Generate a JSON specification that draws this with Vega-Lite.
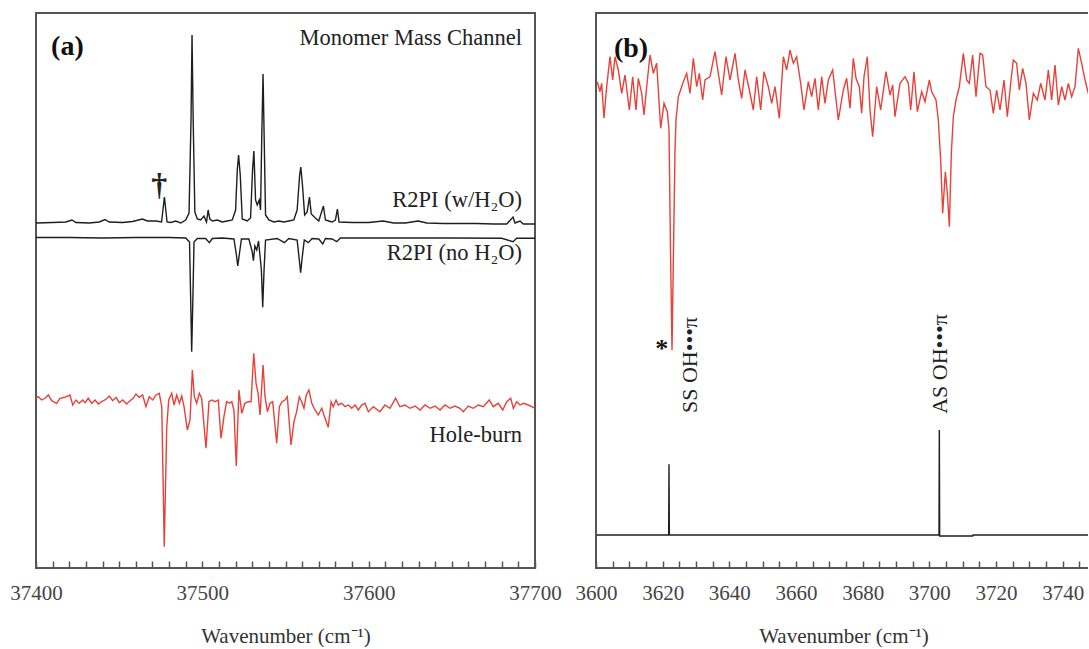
{
  "$schema": "https://vega.github.io/schema/vega-lite/v6.json",
  "padding": {"left": 8, "top": 12, "right": -4, "bottom": 0},
  "background": "white",
  "config": {
    "font": "Liberation Serif",
    "view": {"stroke": "#555", "strokeWidth": 2},
    "axis": {"grid": false, "labelFont": "Liberation Serif", "labelFontSize": 21, "labelColor": "#444", "titleFont": "Liberation Serif", "titleFontSize": 21, "titleFontWeight": "normal", "titleColor": "#333", "tickColor": "#555", "tickWidth": 1.5, "domainColor": "#555", "domainWidth": 2, "labelFlush": false, "labelOverlap": false}
  },
  "datasets": {
    "left": [
      {"s":"w","x":37400,"y":345},{"s":"w","x":37410,"y":345.5},{"s":"w","x":37418,"y":346},{"s":"w","x":37421.6,"y":348},{"s":"w","x":37424,"y":345.5},{"s":"w","x":37432,"y":345},{"s":"w","x":37438,"y":346},{"s":"w","x":37441.5,"y":348.5},{"s":"w","x":37444,"y":346},{"s":"w","x":37452,"y":345.5},{"s":"w","x":37458,"y":346.5},{"s":"w","x":37464,"y":349},{"s":"w","x":37467,"y":347},{"s":"w","x":37472,"y":347},{"s":"w","x":37475.5,"y":346},{"s":"w","x":37477.2,"y":371},{"s":"w","x":37478.8,"y":346},{"s":"w","x":37481,"y":345.5},{"s":"w","x":37484,"y":347},{"s":"w","x":37487,"y":345},{"s":"w","x":37490,"y":348},{"s":"w","x":37492,"y":355},{"s":"w","x":37493.2,"y":448},{"s":"w","x":37493.8,"y":533},{"s":"w","x":37494.5,"y":448},{"s":"w","x":37495.5,"y":356},{"s":"w","x":37497,"y":349},{"s":"w","x":37499,"y":348},{"s":"w","x":37501,"y":352},{"s":"w","x":37502.5,"y":346},{"s":"w","x":37503.5,"y":358},{"s":"w","x":37504.5,"y":349},{"s":"w","x":37506,"y":347},{"s":"w","x":37509,"y":348},{"s":"w","x":37512,"y":346},{"s":"w","x":37515,"y":347},{"s":"w","x":37518,"y":348},{"s":"w","x":37520,"y":358},{"s":"w","x":37521,"y":398},{"s":"w","x":37521.8,"y":413},{"s":"w","x":37522.8,"y":393},{"s":"w","x":37524,"y":349},{"s":"w","x":37527,"y":347},{"s":"w","x":37529,"y":350},{"s":"w","x":37530.2,"y":398},{"s":"w","x":37531,"y":417},{"s":"w","x":37532,"y":368},{"s":"w","x":37533,"y":363},{"s":"w","x":37534.2,"y":368},{"s":"w","x":37535,"y":358},{"s":"w","x":37535.8,"y":438},{"s":"w","x":37536.5,"y":494},{"s":"w","x":37537.2,"y":428},{"s":"w","x":37538,"y":353},{"s":"w","x":37540,"y":348},{"s":"w","x":37543,"y":346},{"s":"w","x":37546,"y":347},{"s":"w","x":37549,"y":346},{"s":"w","x":37552,"y":347},{"s":"w","x":37555,"y":348},{"s":"w","x":37557,"y":358},{"s":"w","x":37558.5,"y":393},{"s":"w","x":37559.2,"y":401},{"s":"w","x":37560.2,"y":383},{"s":"w","x":37561.5,"y":353},{"s":"w","x":37563,"y":356},{"s":"w","x":37564.4,"y":371},{"s":"w","x":37565.5,"y":354},{"s":"w","x":37568,"y":350},{"s":"w","x":37570,"y":347},{"s":"w","x":37572.8,"y":362},{"s":"w","x":37574,"y":348},{"s":"w","x":37576,"y":347},{"s":"w","x":37578,"y":346},{"s":"w","x":37580,"y":348},{"s":"w","x":37581.2,"y":359},{"s":"w","x":37582.2,"y":346},{"s":"w","x":37590,"y":345.5},{"s":"w","x":37600,"y":345.5},{"s":"w","x":37608.7,"y":347},{"s":"w","x":37615,"y":345},{"s":"w","x":37622,"y":345},{"s":"w","x":37629.7,"y":347},{"s":"w","x":37635,"y":345},{"s":"w","x":37645,"y":344.5},{"s":"w","x":37655,"y":344.5},{"s":"w","x":37665,"y":344.5},{"s":"w","x":37675,"y":344},{"s":"w","x":37683,"y":344},{"s":"w","x":37686.8,"y":351},{"s":"w","x":37688,"y":345},{"s":"w","x":37691,"y":347},{"s":"w","x":37693,"y":344},{"s":"w","x":37700,"y":344},
      {"s":"no","x":37400,"y":330.5},{"s":"no","x":37420,"y":330.5},{"s":"no","x":37440,"y":330},{"s":"no","x":37460,"y":330.5},{"s":"no","x":37480,"y":330.5},{"s":"no","x":37490,"y":330},{"s":"no","x":37492.3,"y":326},{"s":"no","x":37493,"y":268},{"s":"no","x":37493.6,"y":216.3},{"s":"no","x":37494.3,"y":268},{"s":"no","x":37495,"y":326},{"s":"no","x":37497,"y":329.5},{"s":"no","x":37502,"y":329.5},{"s":"no","x":37504.2,"y":325.3},{"s":"no","x":37506,"y":329.5},{"s":"no","x":37512,"y":330},{"s":"no","x":37519,"y":329},{"s":"no","x":37520.5,"y":313},{"s":"no","x":37521.3,"y":302},{"s":"no","x":37522.2,"y":313},{"s":"no","x":37523.5,"y":329},{"s":"no","x":37528,"y":329},{"s":"no","x":37530,"y":316},{"s":"no","x":37530.7,"y":307.3},{"s":"no","x":37531.6,"y":322},{"s":"no","x":37532.7,"y":318},{"s":"no","x":37533.8,"y":327},{"s":"no","x":37535.5,"y":298},{"s":"no","x":37536.3,"y":260.7},{"s":"no","x":37537.1,"y":298},{"s":"no","x":37538,"y":328},{"s":"no","x":37545,"y":329.5},{"s":"no","x":37549.3,"y":325.3},{"s":"no","x":37552,"y":329.5},{"s":"no","x":37557,"y":328},{"s":"no","x":37558.3,"y":308},{"s":"no","x":37559.1,"y":295.3},{"s":"no","x":37560,"y":310},{"s":"no","x":37561.3,"y":328},{"s":"no","x":37563.7,"y":325.3},{"s":"no","x":37566,"y":329.5},{"s":"no","x":37570,"y":329},{"s":"no","x":37572.4,"y":324},{"s":"no","x":37574,"y":329.5},{"s":"no","x":37578,"y":329},{"s":"no","x":37580.8,"y":326.3},{"s":"no","x":37583,"y":330},{"s":"no","x":37600,"y":330},{"s":"no","x":37620,"y":330},{"s":"no","x":37650,"y":330},{"s":"no","x":37680,"y":329.7},{"s":"no","x":37686.8,"y":326.3},{"s":"no","x":37689,"y":329.7},{"s":"no","x":37700,"y":329.7},
      {"s":"hb","x":37400,"y":169.7},{"s":"hb","x":37401.4,"y":171.3},{"s":"hb","x":37403.4,"y":168},{"s":"hb","x":37405.4,"y":169.7},{"s":"hb","x":37407.4,"y":173},{"s":"hb","x":37409.4,"y":167.3},{"s":"hb","x":37412.4,"y":164.7},{"s":"hb","x":37414.4,"y":169.7},{"s":"hb","x":37417.4,"y":170.7},{"s":"hb","x":37420.4,"y":173},{"s":"hb","x":37422.1,"y":163},{"s":"hb","x":37424,"y":168},{"s":"hb","x":37426,"y":164.7},{"s":"hb","x":37428.1,"y":168},{"s":"hb","x":37429.5,"y":165.3},{"s":"hb","x":37431.4,"y":169.7},{"s":"hb","x":37433.5,"y":164.7},{"s":"hb","x":37435.5,"y":168},{"s":"hb","x":37437.5,"y":164},{"s":"hb","x":37439.5,"y":166.3},{"s":"hb","x":37442.1,"y":168.7},{"s":"hb","x":37444.1,"y":172},{"s":"hb","x":37446.1,"y":167.3},{"s":"hb","x":37448.1,"y":170.7},{"s":"hb","x":37450.1,"y":165.3},{"s":"hb","x":37452.1,"y":168},{"s":"hb","x":37454.5,"y":164},{"s":"hb","x":37456.5,"y":167.3},{"s":"hb","x":37458.5,"y":169.7},{"s":"hb","x":37460.1,"y":174},{"s":"hb","x":37462.1,"y":170.7},{"s":"hb","x":37464.1,"y":173},{"s":"hb","x":37466.1,"y":161.3},{"s":"hb","x":37468.1,"y":171.3},{"s":"hb","x":37470.2,"y":168},{"s":"hb","x":37472.1,"y":173},{"s":"hb","x":37474.1,"y":174.7},{"s":"hb","x":37475.6,"y":161.3},{"s":"hb","x":37477.1,"y":21.3},{"s":"hb","x":37478.6,"y":141.3},{"s":"hb","x":37479.8,"y":168},{"s":"hb","x":37481.6,"y":174.7},{"s":"hb","x":37483,"y":163},{"s":"hb","x":37484.6,"y":173},{"s":"hb","x":37486.2,"y":164.7},{"s":"hb","x":37487.6,"y":172},{"s":"hb","x":37489,"y":161.3},{"s":"hb","x":37491,"y":138},{"s":"hb","x":37492.6,"y":148},{"s":"hb","x":37494,"y":198},{"s":"hb","x":37495.2,"y":171.3},{"s":"hb","x":37496.6,"y":164.7},{"s":"hb","x":37498.2,"y":174.7},{"s":"hb","x":37499.6,"y":169.7},{"s":"hb","x":37502.2,"y":119.7},{"s":"hb","x":37504,"y":166.3},{"s":"hb","x":37505.6,"y":168},{"s":"hb","x":37507.6,"y":166.3},{"s":"hb","x":37509.6,"y":168},{"s":"hb","x":37511.2,"y":129.7},{"s":"hb","x":37513,"y":151.3},{"s":"hb","x":37514.6,"y":166.3},{"s":"hb","x":37516.2,"y":164.7},{"s":"hb","x":37517.7,"y":166.3},{"s":"hb","x":37519,"y":158},{"s":"hb","x":37520.4,"y":102},{"s":"hb","x":37522,"y":178},{"s":"hb","x":37523.7,"y":154.7},{"s":"hb","x":37525.6,"y":164.7},{"s":"hb","x":37527.6,"y":166.3},{"s":"hb","x":37529.3,"y":166.3},{"s":"hb","x":37530.9,"y":214.7},{"s":"hb","x":37532.3,"y":184.7},{"s":"hb","x":37533.5,"y":174.7},{"s":"hb","x":37534.7,"y":153},{"s":"hb","x":37536.5,"y":203},{"s":"hb","x":37537.7,"y":171.3},{"s":"hb","x":37539.1,"y":156.3},{"s":"hb","x":37540.7,"y":164.7},{"s":"hb","x":37542.3,"y":166.3},{"s":"hb","x":37544.7,"y":124.7},{"s":"hb","x":37546.3,"y":161.3},{"s":"hb","x":37547.9,"y":166.3},{"s":"hb","x":37549.7,"y":168},{"s":"hb","x":37551.1,"y":171.3},{"s":"hb","x":37553.3,"y":123},{"s":"hb","x":37555.1,"y":146.3},{"s":"hb","x":37556.7,"y":156.3},{"s":"hb","x":37558.3,"y":171.3},{"s":"hb","x":37559.7,"y":166.3},{"s":"hb","x":37561.1,"y":159.7},{"s":"hb","x":37562.5,"y":173},{"s":"hb","x":37564.1,"y":178},{"s":"hb","x":37565.8,"y":164.7},{"s":"hb","x":37567.7,"y":158},{"s":"hb","x":37569.7,"y":153},{"s":"hb","x":37571.8,"y":159.7},{"s":"hb","x":37573.1,"y":153},{"s":"hb","x":37575.7,"y":140.7},{"s":"hb","x":37577.4,"y":166.3},{"s":"hb","x":37578.7,"y":161.3},{"s":"hb","x":37580.4,"y":168},{"s":"hb","x":37581.7,"y":163},{"s":"hb","x":37583.8,"y":164.7},{"s":"hb","x":37585.8,"y":161.3},{"s":"hb","x":37587.8,"y":163},{"s":"hb","x":37589.8,"y":159.7},{"s":"hb","x":37591.8,"y":163},{"s":"hb","x":37593.8,"y":158},{"s":"hb","x":37595.8,"y":163},{"s":"hb","x":37597.8,"y":164.7},{"s":"hb","x":37599.8,"y":156.3},{"s":"hb","x":37602.8,"y":161.3},{"s":"hb","x":37606.8,"y":156.3},{"s":"hb","x":37609.8,"y":163},{"s":"hb","x":37612.8,"y":159.7},{"s":"hb","x":37616.2,"y":169.7},{"s":"hb","x":37618.8,"y":161.3},{"s":"hb","x":37621.8,"y":163},{"s":"hb","x":37624.8,"y":159.7},{"s":"hb","x":37627.9,"y":162},{"s":"hb","x":37630.9,"y":158},{"s":"hb","x":37633.9,"y":163},{"s":"hb","x":37636.9,"y":159.7},{"s":"hb","x":37639.9,"y":162},{"s":"hb","x":37642.9,"y":158},{"s":"hb","x":37645.9,"y":163},{"s":"hb","x":37648.9,"y":159.7},{"s":"hb","x":37651.9,"y":162},{"s":"hb","x":37654.9,"y":159.7},{"s":"hb","x":37656.9,"y":156.3},{"s":"hb","x":37659.9,"y":162},{"s":"hb","x":37662.9,"y":159.7},{"s":"hb","x":37665.9,"y":163},{"s":"hb","x":37668.9,"y":161.3},{"s":"hb","x":37672.5,"y":168},{"s":"hb","x":37674.9,"y":161.3},{"s":"hb","x":37677.9,"y":164.7},{"s":"hb","x":37680.6,"y":158},{"s":"hb","x":37683,"y":166.3},{"s":"hb","x":37685.4,"y":169.7},{"s":"hb","x":37687,"y":159.7},{"s":"hb","x":37689,"y":166.3},{"s":"hb","x":37691,"y":163},{"s":"hb","x":37693,"y":164.7},{"s":"hb","x":37696,"y":163},{"s":"hb","x":37699,"y":160.7},{"s":"hb","x":37700,"y":159.7}
    ],
    "right": [
      {"s":"hb","x":3600.4,"y":486.3},{"s":"hb","x":3601.2,"y":476.3},{"s":"hb","x":3601.7,"y":484.7},{"s":"hb","x":3602.4,"y":449.7},{"s":"hb","x":3603.2,"y":481.3},{"s":"hb","x":3604.2,"y":511.3},{"s":"hb","x":3605,"y":488},{"s":"hb","x":3605.7,"y":511.3},{"s":"hb","x":3606.7,"y":498},{"s":"hb","x":3607.7,"y":474.7},{"s":"hb","x":3608.7,"y":493},{"s":"hb","x":3610,"y":458},{"s":"hb","x":3611,"y":491.3},{"s":"hb","x":3612,"y":458},{"s":"hb","x":3612.7,"y":489.7},{"s":"hb","x":3613.7,"y":474.7},{"s":"hb","x":3614.4,"y":453},{"s":"hb","x":3615.2,"y":481.3},{"s":"hb","x":3616.2,"y":513},{"s":"hb","x":3617.2,"y":494.7},{"s":"hb","x":3618.2,"y":504.7},{"s":"hb","x":3619.4,"y":439.7},{"s":"hb","x":3620.4,"y":464.7},{"s":"hb","x":3621.4,"y":456.3},{"s":"hb","x":3621.9,"y":438},{"s":"hb","x":3622.35,"y":318},{"s":"hb","x":3622.8,"y":218},{"s":"hb","x":3623.25,"y":318},{"s":"hb","x":3623.7,"y":418},{"s":"hb","x":3624,"y":448},{"s":"hb","x":3624.7,"y":471.3},{"s":"hb","x":3626.2,"y":486.3},{"s":"hb","x":3627.2,"y":494.7},{"s":"hb","x":3628.2,"y":474.7},{"s":"hb","x":3629.2,"y":509.7},{"s":"hb","x":3630.2,"y":481.3},{"s":"hb","x":3631,"y":494.7},{"s":"hb","x":3632,"y":468},{"s":"hb","x":3632.7,"y":488},{"s":"hb","x":3634.2,"y":491.3},{"s":"hb","x":3635.7,"y":516.3},{"s":"hb","x":3636.7,"y":494.7},{"s":"hb","x":3637.7,"y":473},{"s":"hb","x":3639,"y":511.3},{"s":"hb","x":3640.2,"y":488},{"s":"hb","x":3641.7,"y":514.7},{"s":"hb","x":3642.7,"y":488},{"s":"hb","x":3643.7,"y":469.7},{"s":"hb","x":3644.7,"y":498},{"s":"hb","x":3646,"y":478},{"s":"hb","x":3647.2,"y":458},{"s":"hb","x":3648.2,"y":491.3},{"s":"hb","x":3649.4,"y":458},{"s":"hb","x":3650.4,"y":496.3},{"s":"hb","x":3651.7,"y":481.3},{"s":"hb","x":3652.7,"y":464.7},{"s":"hb","x":3653.7,"y":481.3},{"s":"hb","x":3655,"y":449.7},{"s":"hb","x":3656.2,"y":511.3},{"s":"hb","x":3657.2,"y":498},{"s":"hb","x":3658.2,"y":518},{"s":"hb","x":3659.2,"y":504.7},{"s":"hb","x":3660.2,"y":511.3},{"s":"hb","x":3661.4,"y":484.7},{"s":"hb","x":3662.4,"y":458},{"s":"hb","x":3663.7,"y":486.3},{"s":"hb","x":3664.7,"y":471.3},{"s":"hb","x":3665.7,"y":489.7},{"s":"hb","x":3666.7,"y":458},{"s":"hb","x":3667.7,"y":491.3},{"s":"hb","x":3668.7,"y":464.7},{"s":"hb","x":3669.7,"y":488},{"s":"hb","x":3671,"y":498},{"s":"hb","x":3672.7,"y":448},{"s":"hb","x":3674.2,"y":478},{"s":"hb","x":3675.2,"y":489.7},{"s":"hb","x":3676.2,"y":459.7},{"s":"hb","x":3677.2,"y":509.7},{"s":"hb","x":3678,"y":489.7},{"s":"hb","x":3679,"y":481.3},{"s":"hb","x":3679.7,"y":454.7},{"s":"hb","x":3680.4,"y":491.3},{"s":"hb","x":3681.4,"y":511.3},{"s":"hb","x":3682.2,"y":458},{"s":"hb","x":3683,"y":431.3},{"s":"hb","x":3684.2,"y":481.3},{"s":"hb","x":3685.4,"y":458},{"s":"hb","x":3687,"y":496.3},{"s":"hb","x":3688.2,"y":473},{"s":"hb","x":3689,"y":483},{"s":"hb","x":3689.7,"y":451.3},{"s":"hb","x":3691.2,"y":484.7},{"s":"hb","x":3692.7,"y":491.3},{"s":"hb","x":3693.7,"y":484.7},{"s":"hb","x":3694.4,"y":458},{"s":"hb","x":3695.4,"y":496.3},{"s":"hb","x":3696.4,"y":456.3},{"s":"hb","x":3697.7,"y":476.3},{"s":"hb","x":3698.7,"y":466.3},{"s":"hb","x":3700,"y":488},{"s":"hb","x":3700.7,"y":476.3},{"s":"hb","x":3702,"y":468},{"s":"hb","x":3702.7,"y":448},{"s":"hb","x":3703.4,"y":408},{"s":"hb","x":3704,"y":354.7},{"s":"hb","x":3704.8,"y":396.3},{"s":"hb","x":3705.4,"y":374.7},{"s":"hb","x":3706,"y":341.3},{"s":"hb","x":3706.6,"y":414.7},{"s":"hb","x":3707.2,"y":451.3},{"s":"hb","x":3708,"y":468},{"s":"hb","x":3709,"y":481.3},{"s":"hb","x":3710.2,"y":514.7},{"s":"hb","x":3711.2,"y":488},{"s":"hb","x":3712,"y":484.7},{"s":"hb","x":3713,"y":513},{"s":"hb","x":3714,"y":471.3},{"s":"hb","x":3715.2,"y":514.7},{"s":"hb","x":3716,"y":513},{"s":"hb","x":3717,"y":481.3},{"s":"hb","x":3718.2,"y":478},{"s":"hb","x":3719.2,"y":454.7},{"s":"hb","x":3720.2,"y":478},{"s":"hb","x":3721.2,"y":458},{"s":"hb","x":3722.4,"y":488},{"s":"hb","x":3723.4,"y":451.3},{"s":"hb","x":3724.4,"y":484.7},{"s":"hb","x":3725.2,"y":508},{"s":"hb","x":3726.2,"y":504.7},{"s":"hb","x":3727,"y":478},{"s":"hb","x":3728,"y":499.7},{"s":"hb","x":3729,"y":484.7},{"s":"hb","x":3730,"y":448},{"s":"hb","x":3731.2,"y":474.7},{"s":"hb","x":3732.4,"y":468},{"s":"hb","x":3733.4,"y":484.7},{"s":"hb","x":3734.7,"y":468},{"s":"hb","x":3735.7,"y":498},{"s":"hb","x":3736.7,"y":468},{"s":"hb","x":3737.7,"y":503},{"s":"hb","x":3738.7,"y":463},{"s":"hb","x":3739.7,"y":481.3},{"s":"hb","x":3740.7,"y":468},{"s":"hb","x":3741.7,"y":484.7},{"s":"hb","x":3742.7,"y":471.3},{"s":"hb","x":3743.7,"y":481.3},{"s":"hb","x":3744.7,"y":519.7},{"s":"hb","x":3745.7,"y":504.7},{"s":"hb","x":3746.7,"y":488},{"s":"hb","x":3747.7,"y":474.7},{"s":"hb","x":3750,"y":483},
      {"s":"st","x":3600.2,"y":33},{"s":"st","x":3621.8,"y":33},{"s":"st","x":3621.9,"y":103.7},{"s":"st","x":3622,"y":33},{"s":"st","x":3702.9,"y":33},{"s":"st","x":3703,"y":138},{"s":"st","x":3703.1,"y":32},{"s":"st","x":3713,"y":32},{"s":"st","x":3713.1,"y":33},{"s":"st","x":3750,"y":33}
    ],
    "leftText": [
      {"k":"a","x":37418.9,"y":521,"label":"(a)"},
      {"k":"r","x":37692.2,"y":530,"label":"Monomer Mass Channel"},
      {"k":"r","x":37692.2,"y":368,"label":"R2PI (w/H₂O)"},
      {"k":"r","x":37692.2,"y":315,"label":"R2PI (no H₂O)"},
      {"k":"r","x":37692.2,"y":133,"label":"Hole-burn"},
      {"k":"d","x":37474.1,"y":383,"label":"†"}
    ],
    "rightText": [
      {"k":"b","x":3610.5,"y":519,"label":"(b)"},
      {"k":"s","x":3619.7,"y":219,"label":"*"},
      {"k":"v","x":3628.2,"y":203,"label":"SS OH•••π"},
      {"k":"v","x":3703.2,"y":204,"label":"AS OH•••π"}
    ]
  },
  "hconcat": [
    {
      "width": 499,
      "height": 555,
      "resolve": {"axis": {"x": "independent", "y": "independent"}},
      "layer": [
        {
          "data": {"name": "left"},
          "mark": {"type": "line", "clip": true, "strokeWidth": 1.4},
          "encoding": {
            "x": {"field": "x", "type": "quantitative", "scale": {"domain": [37400, 37700], "nice": false, "zero": false},
              "axis": {"title": "Wavenumber (cm⁻¹)", "values": [37400,37410,37420,37430,37440,37450,37460,37470,37480,37490,37500,37510,37520,37530,37540,37550,37560,37570,37580,37590,37600,37610,37620,37630,37640,37650,37660,37670,37680,37690,37700],
                "format": "d", "labelExpr": "datum.value % 100 === 0 ? datum.label : ''", "labelOverlap": false, "labelFlush": false, "labelPadding": 21, "titlePadding": 22, "tickSize": -7, "domain": false,
                "encode": {"ticks": {"update": {"y": {"value": 0}, "y2": {"signal": "datum.value % 100 === 0 ? -14 : (datum.value % 50 === 0 ? -10 : -7)"}}}}}},
            "y": {"field": "y", "type": "quantitative", "scale": {"domain": [0, 555], "nice": false, "zero": false}, "axis": null},
            "color": {"field": "s", "type": "nominal", "scale": {"domain": ["w", "no", "hb"], "range": ["#1e1e1e", "#1e1e1e", "#e8413a"]}, "legend": null}
          }
        },
        {
          "data": {"name": "leftText"},
          "transform": [{"filter": "datum.k === 'a'"}],
          "mark": {"type": "text", "font": "Liberation Serif", "fontSize": 28, "fontWeight": "bold", "align": "center", "baseline": "middle", "color": "#111"},
          "encoding": {"x": {"field": "x", "type": "quantitative", "axis": null}, "y": {"field": "y", "type": "quantitative", "axis": null}, "text": {"field": "label"}}
        },
        {
          "data": {"name": "leftText"},
          "transform": [{"filter": "datum.k === 'r'"}],
          "mark": {"type": "text", "font": "Liberation Serif", "fontSize": 22.5, "align": "right", "baseline": "middle", "color": "#222"},
          "encoding": {"x": {"field": "x", "type": "quantitative", "axis": null}, "y": {"field": "y", "type": "quantitative", "axis": null}, "text": {"field": "label"}}
        },
        {
          "data": {"name": "leftText"},
          "transform": [{"filter": "datum.k === 'd'"}],
          "mark": {"type": "text", "font": "Liberation Serif", "fontSize": 32, "fontWeight": "bold", "align": "center", "baseline": "middle", "color": "#222"},
          "encoding": {"x": {"field": "x", "type": "quantitative", "axis": null}, "y": {"field": "y", "type": "quantitative", "axis": null}, "text": {"field": "label"}}
        }
      ]
    },
    {
      "width": 495,
      "height": 555,
      "resolve": {"axis": {"x": "independent", "y": "independent"}},
      "layer": [
        {
          "data": {"name": "right"},
          "mark": {"type": "line", "clip": true, "strokeWidth": 1.4},
          "encoding": {
            "x": {"field": "x", "type": "quantitative", "scale": {"domain": [3600, 3748.5], "nice": false, "zero": false},
              "axis": {"title": "Wavenumber (cm⁻¹)", "values": [3600,3605,3610,3615,3620,3625,3630,3635,3640,3645,3650,3655,3660,3665,3670,3675,3680,3685,3690,3695,3700,3705,3710,3715,3720,3725,3730,3735,3740,3745],
                "format": "d", "labelExpr": "datum.value % 20 === 0 ? datum.label : ''", "labelOverlap": false, "labelFlush": false, "labelPadding": 21, "titlePadding": 22, "tickSize": -7, "domain": false,
                "encode": {"ticks": {"update": {"y": {"value": 0}, "y2": {"signal": "datum.value % 20 === 0 ? -16 : -8"}}}}}},
            "y": {"field": "y", "type": "quantitative", "scale": {"domain": [0, 555], "nice": false, "zero": false}, "axis": null},
            "color": {"field": "s", "type": "nominal", "scale": {"domain": ["hb", "st"], "range": ["#e8413a", "#1e1e1e"]}, "legend": null}
          }
        },
        {
          "data": {"name": "rightText"},
          "transform": [{"filter": "datum.k === 'b'"}],
          "mark": {"type": "text", "font": "Liberation Serif", "fontSize": 28, "fontWeight": "bold", "align": "center", "baseline": "middle", "color": "#111"},
          "encoding": {"x": {"field": "x", "type": "quantitative", "axis": null}, "y": {"field": "y", "type": "quantitative", "axis": null}, "text": {"field": "label"}}
        },
        {
          "data": {"name": "rightText"},
          "transform": [{"filter": "datum.k === 's'"}],
          "mark": {"type": "text", "font": "Liberation Serif", "fontSize": 26, "fontWeight": "bold", "align": "center", "baseline": "middle", "color": "#111"},
          "encoding": {"x": {"field": "x", "type": "quantitative", "axis": null}, "y": {"field": "y", "type": "quantitative", "axis": null}, "text": {"field": "label"}}
        },
        {
          "data": {"name": "rightText"},
          "transform": [{"filter": "datum.k === 'v'"}],
          "mark": {"type": "text", "font": "Liberation Serif", "fontSize": 22, "angle": 270, "align": "center", "baseline": "middle", "color": "#222"},
          "encoding": {"x": {"field": "x", "type": "quantitative", "axis": null}, "y": {"field": "y", "type": "quantitative", "axis": null}, "text": {"field": "label"}}
        }
      ]
    }
  ],
  "spacing": 61,
  "bounds": "flush"
}
